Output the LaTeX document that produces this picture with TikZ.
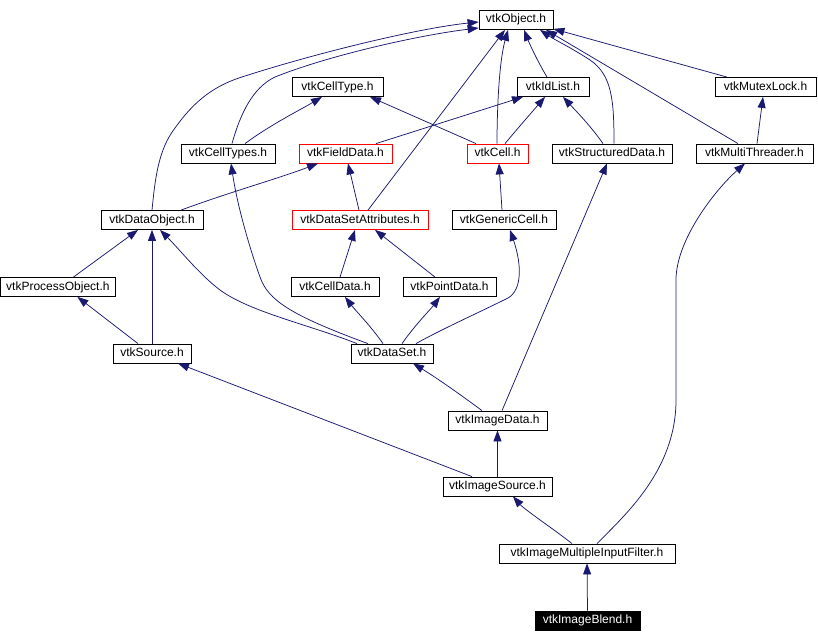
\documentclass[tikz,border=0pt]{standalone}
\usepackage{fontspec}
\setmainfont{Liberation Sans}
\usetikzlibrary{arrows.meta,calc}
\definecolor{edgeblue}{RGB}{25,25,112}
\definecolor{redbox}{RGB}{255,0,0}
\begin{document}
\begin{tikzpicture}[x=1pt,y=-1pt,
  box/.style={draw=black,line width=0.8pt,fill=white,minimum height=19pt,inner sep=0pt,text height=9pt,text depth=3pt,font=\fontsize{12}{14}\selectfont,text=black},
  redb/.style={box,draw=redbox},
  blk/.style={box,fill=black,text=white},
  edge/.style={draw=edgeblue,line width=0.75pt,-{Triangle[length=11pt,width=8pt,fill=edgeblue]}}]
\useasboundingbox (0,0) rectangle (818,642);
% nodes
\node[box,minimum width=74pt] (obj) at (516,20) {vtkObject.h};
\node[box,minimum width=91pt] (celltype) at (337.5,87) {vtkCellType.h};
\node[box,minimum width=72pt] (idlist) at (553,87) {vtkIdList.h};
\node[box,minimum width=101pt] (mutex) at (765.5,87) {vtkMutexLock.h};
\node[box,minimum width=94pt] (celltypes) at (228,153.5) {vtkCellTypes.h};
\node[redb,minimum width=93pt] (fielddata) at (345.5,153.5) {vtkFieldData.h};
\node[redb,minimum width=61pt] (cell) at (497.5,153.5) {vtkCell.h};
\node[box,minimum width=120pt] (structdata) at (612,153.5) {vtkStructuredData.h};
\node[box,minimum width=117pt] (multithr) at (754.5,153.5) {vtkMultiThreader.h};
\node[box,minimum width=102pt] (dataobj) at (152,220) {vtkDataObject.h};
\node[redb,minimum width=136pt] (dsattr) at (360,220) {vtkDataSetAttributes.h};
\node[box,minimum width=104pt] (genericcell) at (504,220) {vtkGenericCell.h};
\node[box,minimum width=115pt] (procobj) at (57.9,287) {vtkProcessObject.h};
\node[box,minimum width=88pt] (celldata) at (335,287) {vtkCellData.h};
\node[box,minimum width=93pt] (pointdata) at (449.5,287) {vtkPointData.h};
\node[box,minimum width=78pt] (source) at (152,353.5) {vtkSource.h};
\node[box,minimum width=82pt] (dataset) at (392,353.5) {vtkDataSet.h};
\node[box,minimum width=99pt] (imagedata) at (497.5,420.5) {vtkImageData.h};
\node[box,minimum width=109pt] (imagesource) at (497.5,486.5) {vtkImageSource.h};
\node[box,minimum width=176pt] (imif) at (587,553.5) {vtkImageMultipleInputFilter.h};
\node[blk,minimum width=105pt] (blend) at (587.5,620.5) {vtkImageBlend.h};
% edges
\draw[edge] ($(celltypes.north)+(17,0)$) .. controls (270,125) and (300,110) .. ($(celltype.south)+(-15.5,0)$);
\draw[edge] ($(celltypes.north)+(4,0)$) .. controls (240,115) and (252,88) .. (275,77) .. controls (330,55) and (420,35) .. ($(obj.west)+(0,8)$);
\draw[edge] (dataobj.north) .. controls (155,180) and (158,150) .. (175,128) .. controls (195,100) and (215,85) .. (245,76) .. controls (320,52) and (420,28) .. ($(obj.west)+(0,2)$);
\draw[edge] ($(dataobj.north)+(29,0)$) .. controls (230,192) and (280,178) .. ($(fielddata.south)+(-27.5,0)$);
\draw[edge] ($(fielddata.north)+(30.5,0)$) -- ($(idlist.south)+(-30,0)$);
\draw[edge] ($(cell.north)+(-21.5,0)$) -- ($(celltype.south)+(32.5,0)$);
\draw[edge] ($(cell.north)+(7.5,0)$) .. controls (518,128) and (532,112) .. ($(idlist.south)+(-8,0)$);
\draw[edge] ($(cell.north)+(-0.5,0)$) .. controls (497,110) and (499,62) .. ($(obj.south)+(-8,0)$);
\draw[edge] ($(idlist.north)+(-6,0)$) .. controls (538,62) and (530,45) .. ($(obj.south)+(8,0)$);
\draw[edge] ($(structdata.north)+(-9,0)$) .. controls (590,125) and (575,110) .. ($(idlist.south)+(10,0)$);
\draw[edge] ($(structdata.north)+(2,0)$) .. controls (614,100) and (612,75) .. (590,60) .. controls (570,47) and (555,40) .. ($(obj.south)+(24,0)$);
\draw[edge] ($(multithr.north)+(-16.5,0)$) -- ($(obj.south)+(30,0)$);
\draw[edge] ($(mutex.north)+(-38.5,0)$) -- ($(obj.south east)+(0,-1)$);
\draw[edge] ($(multithr.north)+(2.5,0)$) -- ($(mutex.south)+(-2.5,0)$);
\draw[edge] ($(dsattr.north)+(8,0)$) -- ($(obj.south)+(-11,0)$);
\draw[edge] ($(dsattr.north)+(-1,0)$) -- ($(fielddata.south)+(2.5,0)$);
\draw[edge] ($(genericcell.north)+(-2,0)$) -- ($(cell.south)+(1.5,0)$);
\draw[edge] ($(procobj.north)+(15.5,0)$) -- ($(dataobj.south)+(-14,0)$);
\draw[edge] (source.north) -- (dataobj.south);
\draw[edge] ($(source.north)+(-14,0)$) -- ($(procobj.south)+(19.5,0)$);
\draw[edge] ($(celldata.north)+(5,0)$) -- ($(dsattr.south)+(-5,0)$);
\draw[edge] ($(pointdata.north)+(-14.5,0)$) -- ($(dsattr.south)+(15,0)$);
\draw[edge] ($(dataset.north)+(-35,0)$) .. controls (310,325) and (250,312) .. (220,290) .. controls (200,275) and (180,250) .. ($(dataobj.south)+(8,0)$);
\draw[edge] ($(dataset.north)+(-24,0)$) .. controls (290,315) and (268,300) .. (260,277) .. controls (252,255) and (238,210) .. ($(celltypes.south)+(3,0)$);
\draw[edge] ($(dataset.north)+(-9,0)$) .. controls (370,325) and (355,310) .. ($(celldata.south)+(10,0)$);
\draw[edge] ($(dataset.north)+(10,0)$) .. controls (415,325) and (430,310) .. ($(pointdata.south)+(-9.5,0)$);
\draw[edge] ($(dataset.north)+(24,0)$) .. controls (440,330) and (480,312) .. (508,298) .. controls (522,290) and (522,265) .. ($(genericcell.south)+(6,0)$);
\draw[edge] ($(imagedata.north)+(-15.5,0)$) .. controls (465,398) and (440,380) .. ($(dataset.south)+(21,0)$);
\draw[edge] ($(imagedata.north)+(4.5,0)$) -- ($(structdata.south)+(-5,0)$);
\draw[edge] (imagesource.north) -- (imagedata.south);
\draw[edge] ($(imagesource.north)+(-25.5,0)$) -- ($(source.south)+(26,0)$);
\draw[edge] ($(imif.north)+(-15,0)$) .. controls (555,530) and (525,510) .. ($(imagesource.south)+(15.5,0)$);
\draw[edge] ($(imif.north)+(10,0)$) .. controls (625,515) and (676,470) .. (676,400) -- (676,280) .. controls (676,240) and (715,190) .. ($(multithr.south)+(-9.5,0)$);
\draw[edge] (blend.north) -- (imif.south);
\end{tikzpicture}
\end{document}
